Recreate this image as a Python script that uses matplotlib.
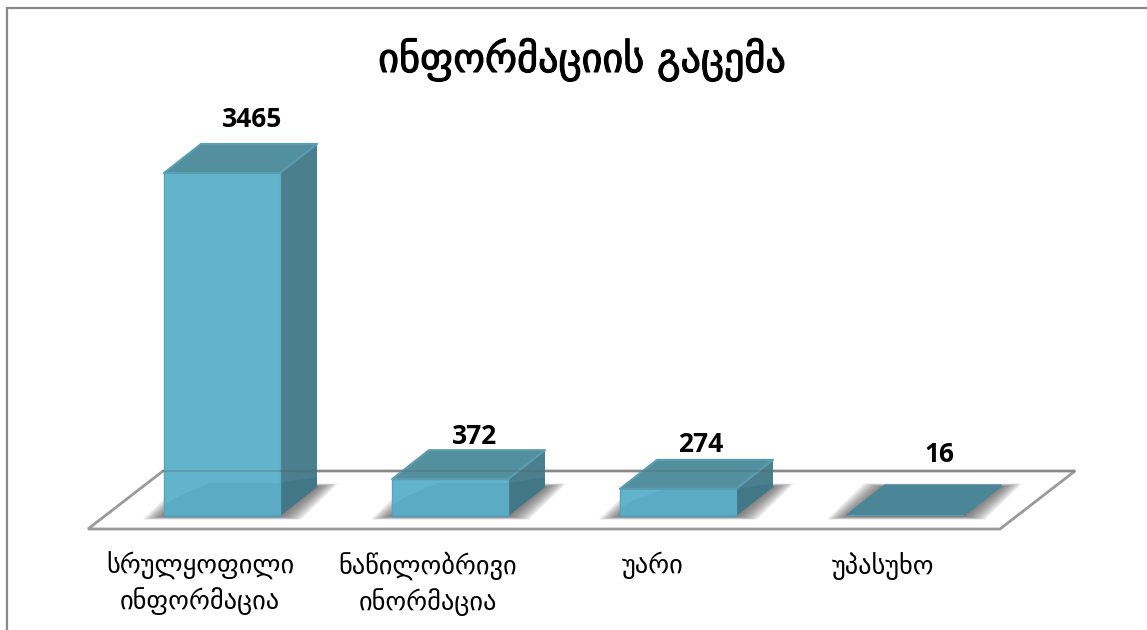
import matplotlib
matplotlib.use("Agg")
import matplotlib.pyplot as plt
import matplotlib.patheffects as pe
from matplotlib.lines import Line2D
from matplotlib.patches import Polygon

title = "ინფორმაციის გაცემა"
categories = ["სრულყოფილი\nინფორმაცია", "ნაწილობრივი\nინორმაცია", "უარი", "უპასუხო"]
values = [3465, 372, 274, 16]

W, H = 1147, 630
PX_X = 228.0            # pixels per category
PX_Y = 343.0 / 3465     # pixels per unit of value
BAR_W = 116 / PX_X
DX = 37 / PX_X          # depth of the 3D bars
DY = 29 / PX_Y

fig = plt.figure(figsize=(W / 100, H / 100), dpi=100)
ax = fig.add_axes([0, 0, 1, 1])
ax.set_xlim(-222 / PX_X, (W - 222) / PX_X)
ax.set_ylim(-(H - 516) / PX_Y, 516 / PX_Y)
ax.axis("off")

FRONT, TOP, SIDE = "#62b4cd", "#53909f", "#4b7f8e"

# frame: only the left and top edges show
fig.add_artist(Line2D([7 / W, 7 / W, 1], [0, 1 - 8 / H, 1 - 8 / H],
                      transform=fig.transFigure, color="#8a8a8a", linewidth=1.6,
                      solid_joinstyle="miter"))

# floor
fy0, fy1 = -13 / PX_Y, 45 / PX_Y
fx0, fx1 = (88 - 222) / PX_X, (1000 - 222) / PX_X
fs = 75 / PX_X
floor = [(fx0, fy0), (fx1, fy0), (fx1 + fs, fy1), (fx0 + fs, fy1)]
ax.add_patch(Polygon(floor, closed=True, facecolor="white", edgecolor="#9a9a9a",
                     linewidth=2, zorder=1))

# soft shadows hugging each bar's footprint
STEPS = 10
for i, v in enumerate(values):
    x0 = i - BAR_W / 2
    x1 = x0 + BAR_W
    for g in range(STEPS):
        t = 1 - g / (STEPS - 1)
        gx = (1 + 20 * t) / PX_X
        gy = (0.5 + 3 * t) / PX_Y
        poly = [(x0 - gx, -gy), (x1 + gx, -gy), (x1 + DX + gx, DY + gy), (x0 + DX - gx, DY + gy)]
        ax.add_patch(Polygon(poly, closed=True, facecolor="#444444", alpha=0.10,
                             edgecolor="none", zorder=2))

# bars
bars = ax.bar(range(len(values)), values, width=BAR_W, color=FRONT, zorder=4, linewidth=0)
for i, (b, v) in enumerate(zip(bars, values)):
    x0, x1 = b.get_x(), b.get_x() + b.get_width()
    flat = v < 50
    ax.add_patch(Polygon([(x1, 0), (x1 + DX, DY), (x1 + DX, v + DY), (x1, v)],
                         closed=True, facecolor=SIDE, edgecolor="none", zorder=4))
    ax.add_patch(Polygon([(x0, v), (x1, v), (x1 + DX, v + DY), (x0 + DX, v + DY)],
                         closed=True, facecolor="#4a8698" if flat else TOP,
                         edgecolor="#4a8698" if flat else "#5b9dae",
                         linewidth=1.5, joinstyle="round", zorder=5))
    if not flat:
        # darker reflection in the lower part of the bar
        h = min(v, 33 / PX_Y)
        ax.add_patch(Polygon([(x0, 0), (x1, 0), (x1, h), (x0 + 0.20, h), (x0 + 0.05, h * 0.55), (x0, h * 0.3)],
                             closed=True, facecolor="#4f9fb6", alpha=0.4,
                             edgecolor="none", zorder=5))
        ax.add_patch(Polygon([(x1, 0), (x1 + DX, DY), (x1 + DX, h + DY * 0.2), (x1, h)],
                             closed=True, facecolor="#2f6a7c", alpha=0.35,
                             edgecolor="none", zorder=5))
        ax.plot([x0, x0], [0, v], color="#55a5bc", lw=1, zorder=6)
        ax.plot([x1, x1], [0, v], color="#5aaac1", lw=1, zorder=6)
        ax.plot([x0, x1], [0, 0], color="#4f9cb2", lw=1, zorder=6)

# floor edge faintly visible through the bars
ax.plot([fx0 + fs, fx1 + fs], [fy1, fy1], color="#555555", alpha=0.25, lw=1.5, zorder=7)

# value labels
label_dx = [30, 25, 23, 33]
label_dy = [24.5, 14, 15.5, 31]
for i, v in enumerate(values):
    ax.text(i + label_dx[i] / PX_X, v + DY + label_dy[i] / PX_Y, str(v), ha="center", va="center",
            fontsize=19, fontweight="bold", family="Open Sans", color="black", zorder=8)

# category labels
cat_dx = [-22, -22, -25, -23]
for i, c in enumerate(categories):
    ax.text(i + cat_dx[i] / PX_X, -36 / PX_Y, c, ha="center", va="top",
            fontsize=19, linespacing=1.33, family=["DejaVu Sans"], color="black", zorder=8)

fig.text(582 / W, 1 - 60 / H, title, ha="center", va="center", fontsize=29,
         family=["DejaVu Sans"], color="black",
         path_effects=[pe.withStroke(linewidth=0.8, foreground="black")])

fig.savefig("out.png", dpi=100)
